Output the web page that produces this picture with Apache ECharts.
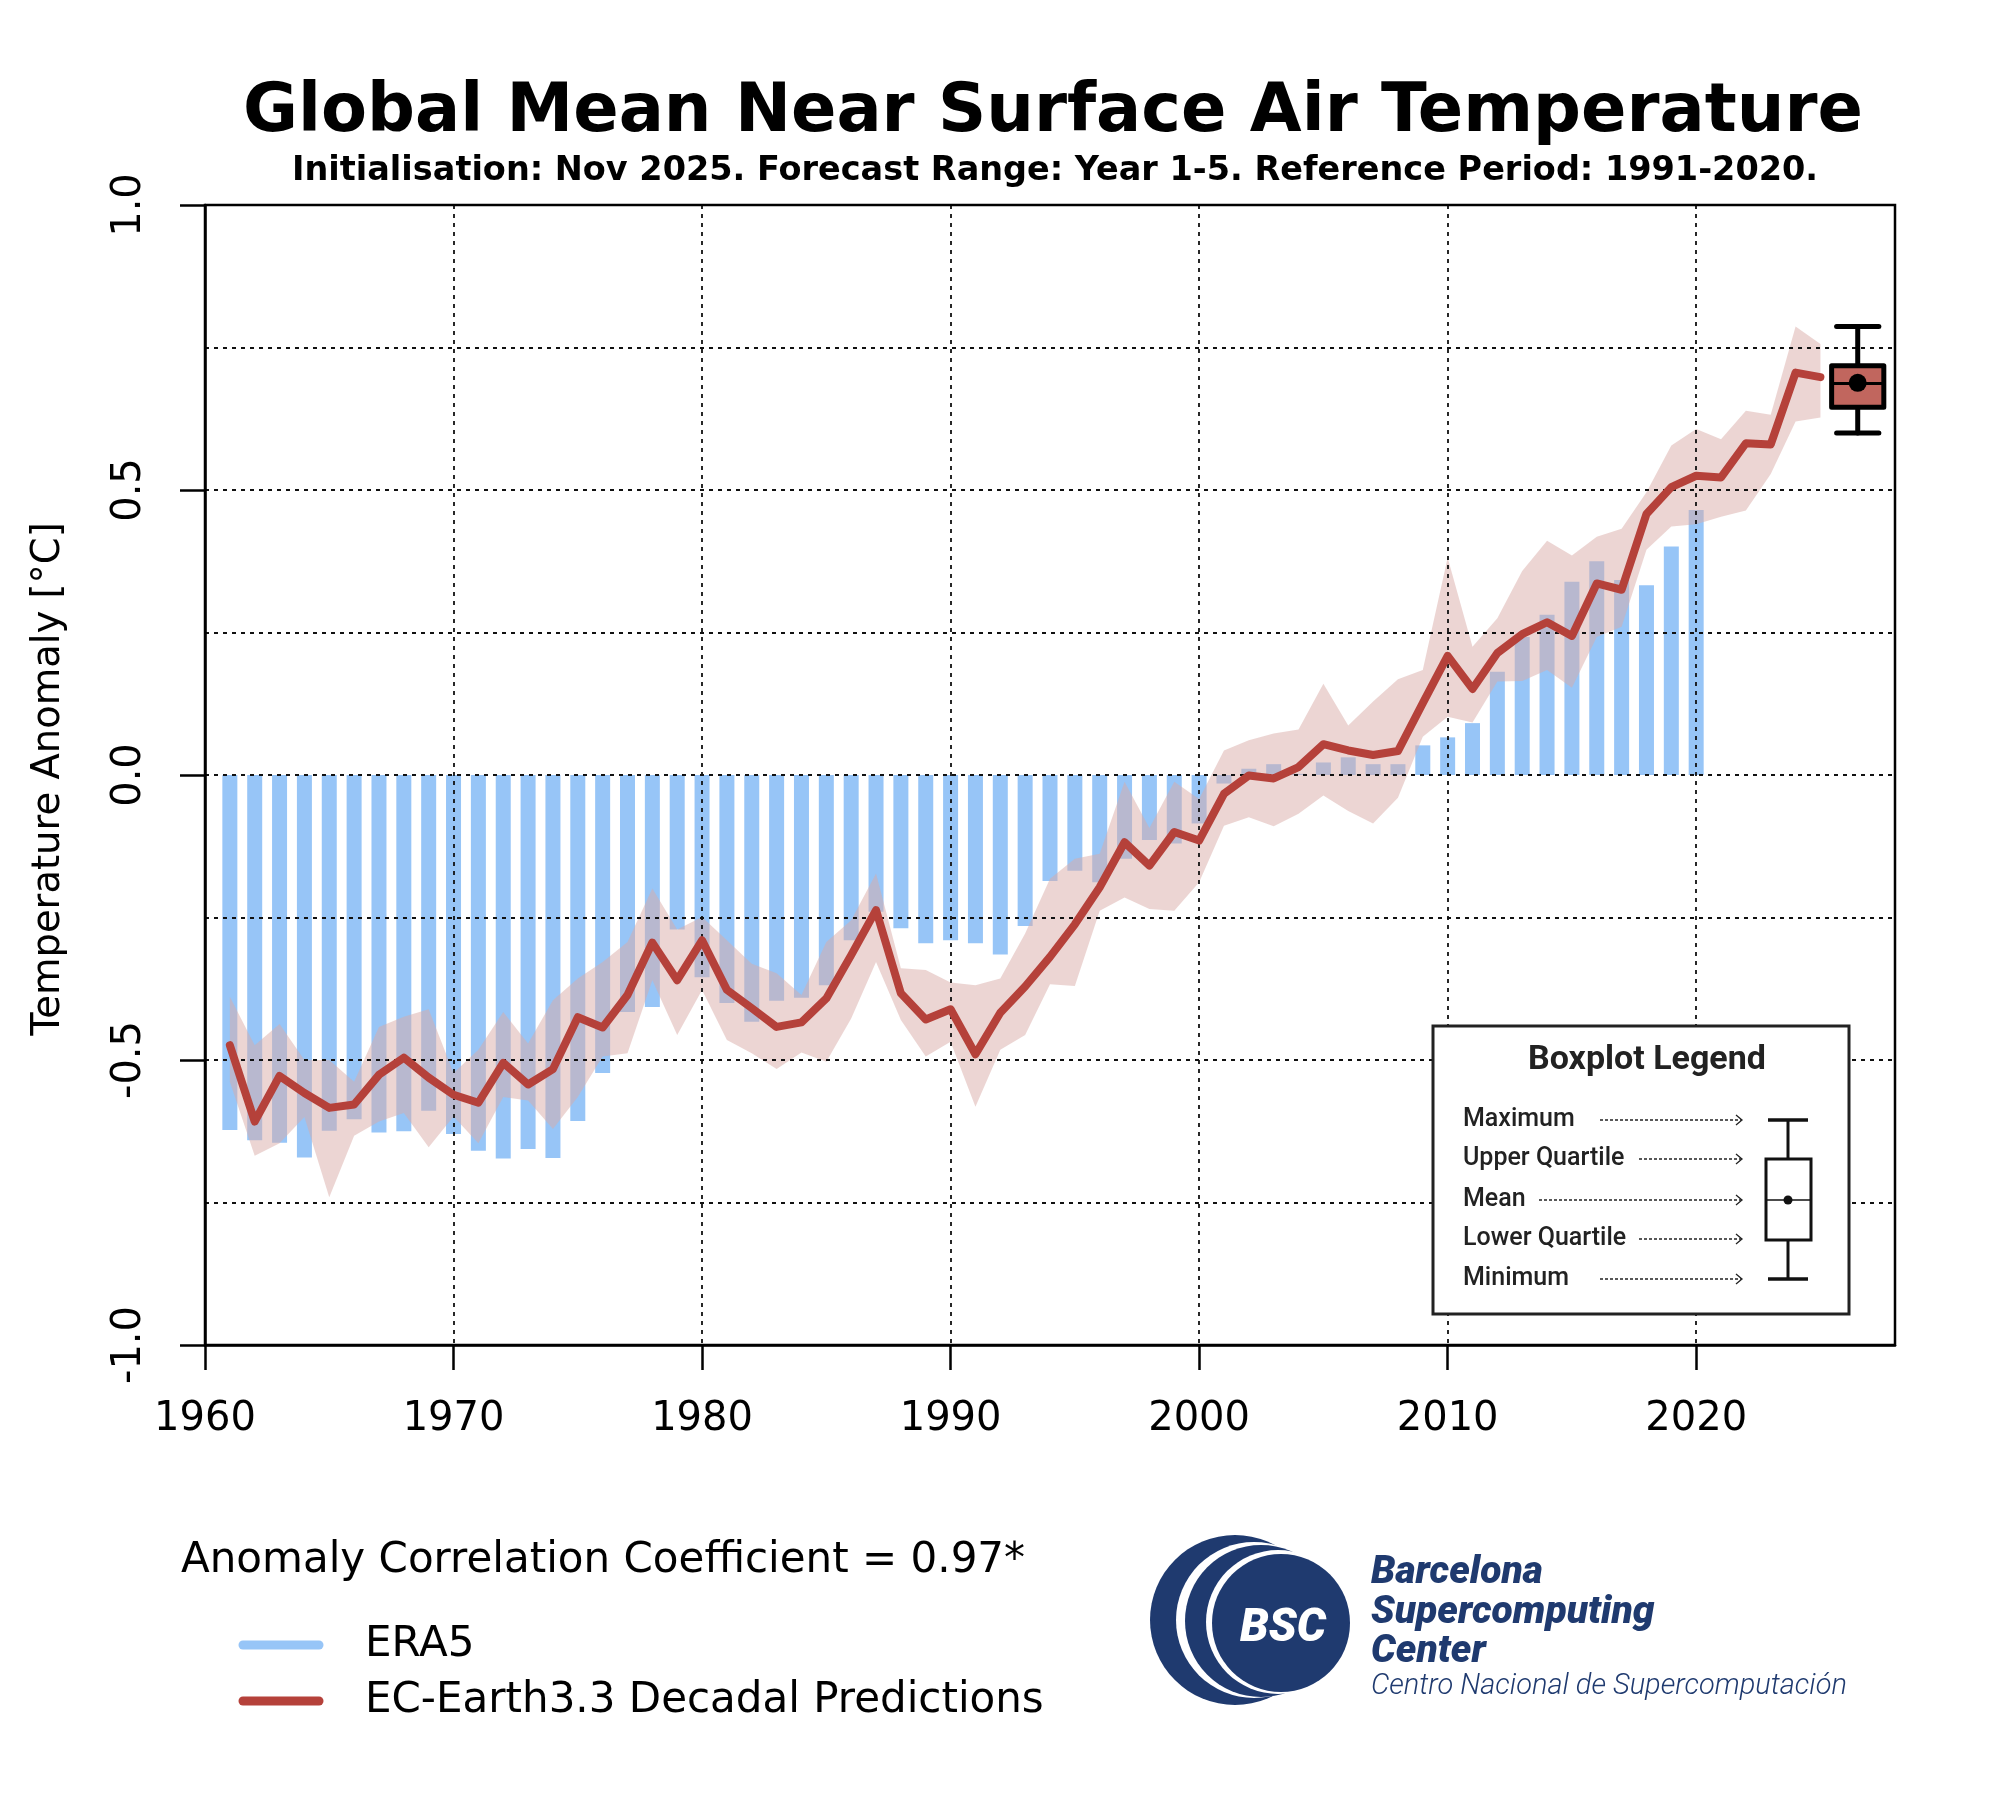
<!DOCTYPE html>
<html>
<head>
<meta charset="utf-8">
<script src="https://cdn.jsdelivr.net/npm/echarts@6/dist/echarts.min.js"></script>
<style>html,body{margin:0;padding:0;background:#fff}#c{width:2000px;height:1800px}</style>
</head>
<body>
<div id="c"></div>
<script>
// ---------------- data ----------------
const eraYears = [1961,1962,1963,1964,1965,1966,1967,1968,1969,1970,1971,1972,1973,1974,1975,1976,1977,1978,1979,1980,
  1981,1982,1983,1984,1985,1986,1987,1988,1989,1990,1991,1992,1993,1994,1995,1996,1997,1998,1999,2000,
  2001,2002,2003,2004,2005,2006,2007,2008,2009,2010,2011,2012,2013,2014,2015,2016,2017,2018,2019,2020];
const era5 = [-0.623,-0.641,-0.645,-0.671,-0.624,-0.604,-0.627,-0.625,-0.589,-0.630,-0.659,-0.673,-0.656,-0.672,-0.607,-0.523,-0.416,-0.407,-0.271,-0.355,
  -0.400,-0.433,-0.396,-0.391,-0.369,-0.290,-0.240,-0.269,-0.295,-0.290,-0.295,-0.315,-0.265,-0.186,-0.168,-0.188,-0.147,-0.114,-0.120,-0.085,
  -0.015,0.011,0.019,0.002,0.022,0.031,0.019,0.019,0.052,0.066,0.091,0.181,0.242,0.281,0.339,0.375,0.342,0.333,0.401,0.465];

const predYears = [1961,1962,1963,1964,1965,1966,1967,1968,1969,1970,1971,1972,1973,1974,1975,1976,1977,1978,1979,1980,
  1981,1982,1983,1984,1985,1986,1987,1988,1989,1990,1991,1992,1993,1994,1995,1996,1997,1998,1999,2000,
  2001,2002,2003,2004,2005,2006,2007,2008,2009,2010,2011,2012,2013,2014,2015,2016,2017,2018,2019,2020,
  2021,2022,2023,2024,2025];
const predMean = [-0.474,-0.608,-0.528,-0.558,-0.584,-0.578,-0.526,-0.496,-0.531,-0.561,-0.575,-0.505,-0.543,-0.516,-0.425,-0.443,-0.386,-0.294,-0.360,-0.290,
  -0.377,-0.409,-0.442,-0.434,-0.392,-0.316,-0.237,-0.383,-0.429,-0.411,-0.490,-0.417,-0.371,-0.319,-0.262,-0.197,-0.118,-0.159,-0.100,-0.115,
  -0.033,-0.001,-0.006,0.014,0.054,0.043,0.035,0.042,0.126,0.209,0.151,0.214,0.247,0.268,0.244,0.336,0.325,0.458,0.505,0.525,
  0.522,0.582,0.580,0.706,0.698];
const predHigh = [-0.389,-0.474,-0.437,-0.500,-0.500,-0.538,-0.442,-0.424,-0.411,-0.523,-0.482,-0.416,-0.471,-0.395,-0.357,-0.328,-0.293,-0.199,-0.271,-0.249,
  -0.290,-0.331,-0.348,-0.386,-0.293,-0.255,-0.173,-0.339,-0.342,-0.364,-0.369,-0.357,-0.278,-0.182,-0.147,-0.138,-0.012,-0.093,-0.012,-0.042,
  0.043,0.061,0.073,0.080,0.160,0.087,0.129,0.168,0.184,0.381,0.225,0.275,0.358,0.411,0.385,0.418,0.432,0.496,0.578,0.607,
  0.589,0.639,0.632,0.787,0.756];
const predLow = [-0.538,-0.668,-0.646,-0.600,-0.741,-0.633,-0.608,-0.593,-0.653,-0.599,-0.646,-0.565,-0.571,-0.621,-0.565,-0.494,-0.488,-0.360,-0.456,-0.377,
  -0.465,-0.488,-0.516,-0.487,-0.503,-0.427,-0.328,-0.430,-0.494,-0.468,-0.582,-0.482,-0.456,-0.367,-0.370,-0.238,-0.215,-0.235,-0.238,-0.188,
  -0.089,-0.074,-0.090,-0.068,-0.036,-0.063,-0.085,-0.040,0.067,0.102,0.092,0.164,0.165,0.184,0.153,0.242,0.260,0.395,0.436,0.440,
  0.453,0.464,0.528,0.620,0.627];

// forecast boxplot (Year 1-5 from Nov 2025)
const boxX = [2026.5];
const boxMin = [0.600];
const boxQ1 = [0.645];
const boxMedian = [0.687];
const boxQ3 = [0.718];
const boxMax = [0.787];
const boxMean = [0.688];

const xTicks = [1960,1970,1980,1990,2000,2010,2020];
const yTicks = [-1.0,-0.5,0.0,0.5,1.0];

const titleText = 'Global Mean Near Surface Air Temperature';
const subtitleText = 'Initialisation: Nov 2025. Forecast Range: Year 1-5. Reference Period: 1991-2020.';
const yAxisTitle = 'Temperature Anomaly [°C]';
const accText = 'Anomaly Correlation Coefficient = 0.97*';
const legendNames = ['ERA5', 'EC-Earth3.3 Decadal Predictions'];
const boxLegendLabels = ['Maximum', 'Upper Quartile', 'Mean', 'Lower Quartile', 'Minimum'];

// ---------------- styles ----------------
const BLUE = '#97c5f7';
const RED = '#b5413a';
const BAND = 'rgba(218,172,168,0.5)';
const BOXFILL = '#c1665e';
const NAVY = '#1f3a6f';
const gridDot = {color: '#111', width: 1.8, type: [4, 5]};

const chart = echarts.init(document.getElementById('c'));

const barData = eraYears.map((y, i) => [y, era5[i]]);
const bandData = predYears.map((y, i) => [y, predLow[i], predHigh[i]]);
const meanData = predYears.map((y, i) => [y, predMean[i]]);
const boxData = boxX.map((x, i) => [x, boxMin[i], boxQ1[i], boxMedian[i], boxQ3[i], boxMax[i], boxMean[i]]);

function txt(x, y, text, font, opts) {
  opts = opts || {};
  return Object.assign({
    type: 'text', x: x, y: y, z: 100,
    style: Object.assign({
      text: text, font: font, fill: opts.fill || '#000',
      align: opts.align || 'left', verticalAlign: 'middle',
      textAlign: opts.align || 'left', textVerticalAlign: 'middle'
    }, opts.style || {})
  }, opts.el || {});
}

// boxplot legend graphics
const legRowY = [1120, 1159, 1200, 1239, 1279];
const legArrowStart = [1600, 1639, 1539, 1639, 1600];
const boxLegend = [];
boxLegend.push({type: 'rect', z: 90, shape: {x: 1433, y: 1026, width: 416, height: 288},
  style: {fill: '#fff', stroke: '#222', lineWidth: 3}});
boxLegend.push(txt(1647, 1060, 'Boxplot Legend', 'bold 34px Roboto', {align: 'center', fill: '#222'}));
boxLegendLabels.forEach((lab, i) => {
  boxLegend.push(txt(1463, legRowY[i], lab, '500 25px Roboto', {fill: '#222'}));
  boxLegend.push({type: 'line', z: 100, shape: {x1: legArrowStart[i], y1: legRowY[i], x2: 1741, y2: legRowY[i]},
    style: {stroke: '#222', lineWidth: 1.3, lineDash: [3, 2]}});
  boxLegend.push({type: 'polyline', z: 100, shape: {points: [[1736, legRowY[i] - 5], [1742, legRowY[i]], [1736, legRowY[i] + 5]]},
    style: {stroke: '#222', lineWidth: 1.3, fill: null}});
});
const mb = {cx: 1788, max: 1120, q3: 1159, med: 1200, q1: 1240, min: 1279};
boxLegend.push({type: 'line', z: 100, shape: {x1: mb.cx, y1: mb.max, x2: mb.cx, y2: mb.q3}, style: {stroke: '#111', lineWidth: 3}});
boxLegend.push({type: 'line', z: 100, shape: {x1: mb.cx, y1: mb.q1, x2: mb.cx, y2: mb.min}, style: {stroke: '#111', lineWidth: 3}});
boxLegend.push({type: 'line', z: 100, shape: {x1: 1768, y1: mb.max, x2: 1808, y2: mb.max}, style: {stroke: '#111', lineWidth: 3.5}});
boxLegend.push({type: 'line', z: 100, shape: {x1: 1768, y1: mb.min, x2: 1808, y2: mb.min}, style: {stroke: '#111', lineWidth: 3.5}});
boxLegend.push({type: 'rect', z: 100, shape: {x: 1766, y: mb.q3, width: 45, height: mb.q1 - mb.q3}, style: {fill: '#fff', stroke: '#111', lineWidth: 3}});
boxLegend.push({type: 'line', z: 101, shape: {x1: 1766, y1: mb.med, x2: 1811, y2: mb.med}, style: {stroke: '#111', lineWidth: 1.5}});
boxLegend.push({type: 'circle', z: 102, shape: {cx: mb.cx, cy: mb.med, r: 4.5}, style: {fill: '#111'}});

// BSC logo
const logo = [
  {type: 'circle', z: 100, shape: {cx: 1235, cy: 1620, r: 85}, style: {fill: NAVY}},
  {type: 'circle', z: 101, shape: {cx: 1254, cy: 1620, r: 78}, style: {fill: '#fff'}},
  {type: 'circle', z: 102, shape: {cx: 1261, cy: 1621, r: 76}, style: {fill: NAVY}},
  {type: 'circle', z: 103, shape: {cx: 1278, cy: 1622, r: 72}, style: {fill: '#fff'}},
  {type: 'circle', z: 104, shape: {cx: 1281, cy: 1623, r: 69}, style: {fill: NAVY}},
  txt(1283, 1629, 'BSC', 'italic 900 46px Roboto', {align: 'center', fill: '#fff', el: {z: 105}}),
  txt(1371, 1573, 'Barcelona', 'italic 900 39px Roboto', {fill: NAVY}),
  txt(1371, 1613, 'Supercomputing', 'italic 900 39px Roboto', {fill: NAVY}),
  txt(1371, 1652, 'Center', 'italic 900 39px Roboto', {fill: NAVY}),
  txt(1371, 1687, 'Centro Nacional de Supercomputación', 'italic 300 29px Roboto', {fill: NAVY})
];

const graphics = [
  txt(1053, 114, titleText, 'bold 67px "DejaVu Sans"', {align: 'center'}),
  txt(1055, 171, subtitleText, 'bold 33.5px "DejaVu Sans"', {align: 'center'}),
  txt(49, 779, yAxisTitle, '38.5px "DejaVu Sans"', {align: 'center', el: {rotation: Math.PI / 2}}),
  txt(181, 1561, accText, '42px "DejaVu Sans"'),
  {type: 'line', z: 100, shape: {x1: 243, y1: 1645, x2: 319, y2: 1645}, style: {stroke: BLUE, lineWidth: 9, lineCap: 'round'}},
  {type: 'line', z: 100, shape: {x1: 243, y1: 1701, x2: 319, y2: 1701}, style: {stroke: RED, lineWidth: 9, lineCap: 'round'}},
  txt(365, 1645, legendNames[0], '42px "DejaVu Sans"'),
  txt(365, 1701, legendNames[1], '42px "DejaVu Sans"')
].concat(boxLegend, logo);

const option = {
  animation: false,
  backgroundColor: '#fff',
  grid: {left: 205, right: 105, top: 205, bottom: 455, show: true, borderColor: '#000', borderWidth: 2.5, z: 6},
  xAxis: {
    type: 'value', min: 1960, max: 2028, interval: 10, z: 3,
    axisLine: {show: true, onZero: false, lineStyle: {color: '#000', width: 2.5}},
    axisTick: {show: true, length: 25, customValues: xTicks, lineStyle: {color: '#000', width: 2.5}},
    axisLabel: {show: true, customValues: xTicks, margin: 55, fontSize: 40, fontFamily: 'DejaVu Sans', color: '#000',
      formatter: v => String(v)},
    splitLine: {show: true, lineStyle: gridDot}
  },
  yAxis: [{
    type: 'value', min: -1, max: 1, interval: 0.25, z: 3,
    axisLine: {show: true, onZero: false, lineStyle: {color: '#000', width: 2.5}},
    axisTick: {show: true, length: 25, customValues: yTicks, lineStyle: {color: '#000', width: 2.5}},
    axisLabel: {show: true, customValues: yTicks, rotate: 90, margin: 55, fontSize: 40, fontFamily: 'DejaVu Sans', color: '#000',
      formatter: v => Number(v).toFixed(1)},
    splitLine: {show: false}
  }, {
    type: 'value', min: -1, max: 1, interval: 0.25, z: 3, position: 'left',
    axisLine: {show: false}, axisTick: {show: false}, axisLabel: {show: false},
    splitLine: {show: true, lineStyle: gridDot}
  }],
  series: [
    {name: 'ERA5', type: 'bar', data: barData, barWidth: 15, z: 1,
      itemStyle: {color: BLUE}, silent: true},
    {name: 'Ensemble range', type: 'custom', data: bandData, z: 2, silent: true,
      encode: {x: 0, y: [1, 2]},
      renderItem: function (params, api) {
        if (params.dataIndexInside !== 0) return null;
        const n = params.dataInsideLength;
        const up = [], lo = [];
        for (let j = 0; j < n; j++) {
          const x = api.value(0, j);
          lo.push(api.coord([x, api.value(1, j)]));
          up.push(api.coord([x, api.value(2, j)]));
        }
        const pts = up.concat(lo.reverse());
        return {type: 'polygon', shape: {points: pts}, style: {fill: BAND, stroke: null}};
      }
    },
    {name: 'EC-Earth3.3 Decadal Predictions', type: 'line', data: meanData, z: 4,
      showSymbol: false, symbol: 'none', lineStyle: {color: RED, width: 8, join: 'round', cap: 'round'}, silent: true},
    {name: 'Forecast', type: 'custom', data: boxData, z: 5, silent: true,
      encode: {x: 0, y: [1, 2, 3, 4, 5]},
      renderItem: function (params, api) {
        const x = api.value(0);
        const pMin = api.coord([x, api.value(1)]);
        const pQ1 = api.coord([x, api.value(2)]);
        const pMed = api.coord([x, api.value(3)]);
        const pQ3 = api.coord([x, api.value(4)]);
        const pMax = api.coord([x, api.value(5)]);
        const pMean = api.coord([x, api.value(6)]);
        const half = api.size([1.05, 0])[0];
        const cap = api.size([0.85, 0])[0];
        const cx = pMed[0];
        const ls = {stroke: '#000', lineWidth: 5, lineCap: 'round'};
        return {type: 'group', children: [
          {type: 'line', shape: {x1: cx, y1: pMax[1], x2: cx, y2: pQ3[1]}, style: ls},
          {type: 'line', shape: {x1: cx, y1: pQ1[1], x2: cx, y2: pMin[1]}, style: ls},
          {type: 'line', shape: {x1: cx - cap, y1: pMax[1], x2: cx + cap, y2: pMax[1]}, style: ls},
          {type: 'line', shape: {x1: cx - cap, y1: pMin[1], x2: cx + cap, y2: pMin[1]}, style: ls},
          {type: 'rect', shape: {x: cx - half, y: pQ3[1], width: 2 * half, height: pQ1[1] - pQ3[1]},
            style: {fill: BOXFILL, stroke: '#000', lineWidth: 5, lineJoin: 'round'}},
          {type: 'line', shape: {x1: cx - half, y1: pMed[1], x2: cx + half, y2: pMed[1]}, style: {stroke: '#000', lineWidth: 3}},
          {type: 'circle', shape: {cx: pMean[0], cy: pMean[1], r: 9}, style: {fill: '#000'}}
        ]};
      }
    }
  ],
  graphic: {elements: graphics}
};
chart.setOption(option);
</script>
</body>
</html>
